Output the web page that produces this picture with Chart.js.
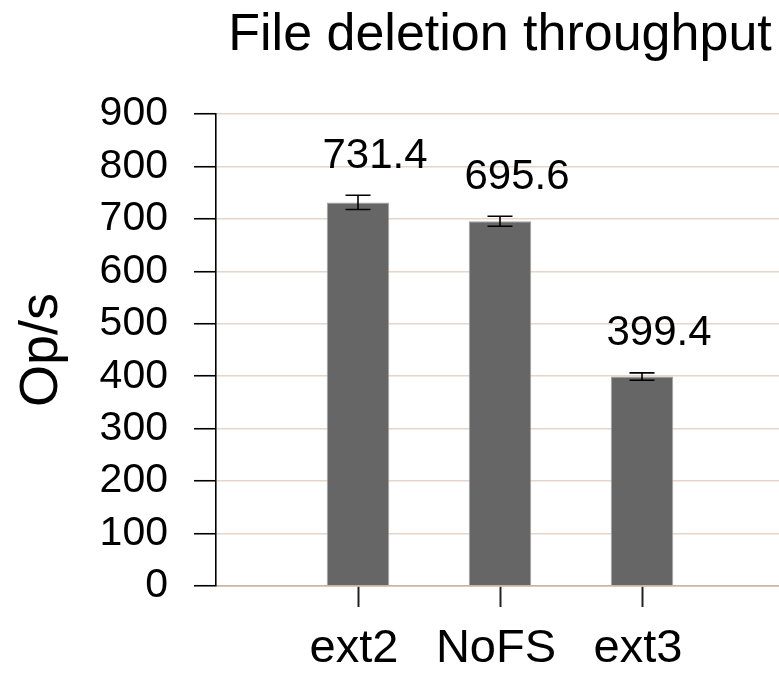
<!DOCTYPE html>
<html>
<head>
<meta charset="utf-8">
<title>File deletion throughput</title>
<script src="https://cdn.jsdelivr.net/npm/chart.js@4/dist/chart.umd.min.js"></script>
<style>
  html, body { margin: 0; padding: 0; overflow: hidden; background: #ffffff; }
  canvas { display: block; }
</style>
</head>
<body>
<canvas id="chart" width="784" height="674"></canvas>
<script>
// Empty slots at both ends pad the axis on either side of the three bars.
const categories = ['', 'ext2', 'NoFS', 'ext3', ''];
const throughput = [null, 731.4, 695.6, 399.4, null];
const errorMargins = [null, 13.6, 9.5, 7.0, null];
const yMin = 0;
const yMax = 900;
const yStep = 100;

const FONT = '"Liberation Sans", Arial, Helvetica, sans-serif';
Chart.defaults.font.family = FONT;
Chart.defaults.color = '#000000';

// Error bars with flat caps, drawn from the margins above.
const errorBarPlugin = {
  id: 'errorBars',
  afterDatasetsDraw(chart) {
    const { ctx, scales: { y } } = chart;
    const meta = chart.getDatasetMeta(0);
    ctx.save();
    ctx.strokeStyle = '#000000';
    ctx.lineWidth = 1.6;
    meta.data.forEach((bar, i) => {
      const v = throughput[i];
      const e = errorMargins[i];
      if (v == null || e == null) return;
      const top = y.getPixelForValue(v + e);
      const bottom = y.getPixelForValue(v - e);
      const half = 12.5;
      ctx.beginPath();
      ctx.moveTo(bar.x, top);
      ctx.lineTo(bar.x, bottom);
      ctx.moveTo(bar.x - half, top);
      ctx.lineTo(bar.x + half, top);
      ctx.moveTo(bar.x - half, bottom);
      ctx.lineTo(bar.x + half, bottom);
      ctx.stroke();
    });
    ctx.restore();
  }
};

// Value captions above each error bar.
const valueLabelPlugin = {
  id: 'valueLabels',
  afterDatasetsDraw(chart) {
    const { ctx, scales: { y } } = chart;
    const meta = chart.getDatasetMeta(0);
    ctx.save();
    ctx.fillStyle = '#000000';
    ctx.font = '42px ' + FONT;
    ctx.textAlign = 'center';
    ctx.textBaseline = 'middle';
    meta.data.forEach((bar, i) => {
      const v = throughput[i];
      if (v == null) return;
      const top = y.getPixelForValue(v + (errorMargins[i] || 0));
      ctx.fillText(v.toFixed(1), bar.x + 17, top - 39);
    });
    ctx.restore();
  }
};

new Chart(document.getElementById('chart'), {
  type: 'bar',
  data: {
    labels: categories,
    datasets: [{
      data: throughput,
      backgroundColor: '#666666',
      borderColor: '#a3a3a3',
      borderWidth: 1,
      barPercentage: 0.44,
      categoryPercentage: 1
    }]
  },
  options: {
    responsive: false,
    animation: false,
    layout: { padding: 0 },
    plugins: {
      legend: { display: false },
      tooltip: { enabled: false },
      title: {
        display: true,
        text: 'File deletion throughput',
        fullSize: false,
        color: '#000000',
        font: { size: 52, weight: 'normal', lineHeight: 1.2 },
        padding: { top: 4, bottom: 47.6 }
      }
    },
    scales: {
      x: {
        offset: false,
        grid: {
          offset: false,
          drawOnChartArea: false,
          drawTicks: true,
          tickLength: 21,
          tickWidth: 2,
          tickColor: (c) => (categories[c.index] ? '#222222' : 'rgba(0,0,0,0)')
        },
        border: { display: true, color: '#cbb6a6', width: 1.5 },
        ticks: {
          autoSkip: false,
          maxRotation: 0,
          padding: 14,
          labelOffset: -4,
          color: '#000000',
          font: { size: 47 }
        },
        afterFit(scale) {
          scale.height = 88;
          scale.paddingLeft = 0;
          scale.paddingRight = 0;
        }
      },
      y: {
        min: yMin,
        max: yMax,
        ticks: {
          stepSize: yStep,
          padding: 26,
          color: '#000000',
          font: { size: 41 }
        },
        grid: {
          color: (c) => (c.tick && c.tick.value === 0 ? '#cbb6a6' : '#e8d5ca'),
          lineWidth: 1.5,
          tickLength: 22,
          tickWidth: 1.6,
          tickColor: '#000000'
        },
        border: { display: true, color: '#000000', width: 1.6 },
        title: {
          display: true,
          text: 'Op/s',
          color: '#000000',
          font: { size: 54, lineHeight: 1.2 },
          padding: { top: 10, bottom: 0 }
        },
        afterFit(scale) { scale.width = 216; }
      }
    }
  },
  plugins: [errorBarPlugin, valueLabelPlugin]
});
</script>
</body>
</html>
